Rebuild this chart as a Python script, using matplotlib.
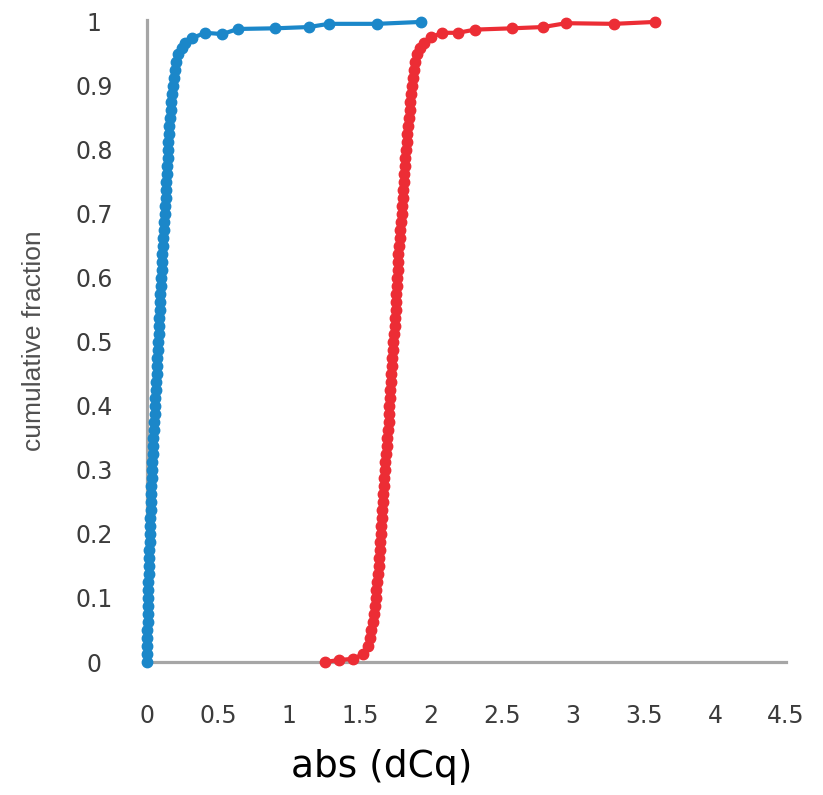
import matplotlib
matplotlib.use("Agg")
import matplotlib.pyplot as plt

# ---- data ----
blue_x = [0.000, 0.000, 0.001, 0.002, 0.003, 0.004, 0.005, 0.006, 0.007, 0.009,
          0.010, 0.012, 0.013, 0.015, 0.016, 0.018, 0.020, 0.021, 0.023, 0.025,
          0.027, 0.029, 0.031, 0.033, 0.035, 0.037, 0.040, 0.042, 0.045, 0.048,
          0.050, 0.053, 0.056, 0.059, 0.062, 0.064, 0.067, 0.070, 0.072, 0.075,
          0.078, 0.081, 0.084, 0.086, 0.089, 0.091, 0.094, 0.097, 0.100, 0.103,
          0.106, 0.109, 0.112, 0.115, 0.118, 0.121, 0.125, 0.128, 0.131, 0.133,
          0.136, 0.139, 0.142, 0.145, 0.148, 0.151, 0.155, 0.158, 0.162, 0.166,
          0.170, 0.176, 0.183, 0.190, 0.197, 0.205, 0.220, 0.245, 0.270, 0.320,
          0.41, 0.53, 0.64, 0.90, 1.14, 1.28, 1.62, 1.93]
blue_y = [0.0000, 0.0125, 0.0250, 0.0375, 0.0500, 0.0625, 0.0750, 0.0875, 0.1000, 0.1125,
          0.1250, 0.1375, 0.1500, 0.1625, 0.1750, 0.1875, 0.2000, 0.2125, 0.2250, 0.2375,
          0.2500, 0.2625, 0.2750, 0.2875, 0.3000, 0.3125, 0.3250, 0.3375, 0.3500, 0.3625,
          0.3750, 0.3875, 0.4000, 0.4125, 0.4250, 0.4375, 0.4500, 0.4625, 0.4750, 0.4875,
          0.5000, 0.5125, 0.5250, 0.5375, 0.5500, 0.5625, 0.5750, 0.5875, 0.6000, 0.6125,
          0.6250, 0.6375, 0.6500, 0.6625, 0.6750, 0.6875, 0.7000, 0.7125, 0.7250, 0.7375,
          0.7500, 0.7625, 0.7750, 0.7875, 0.8000, 0.8125, 0.8250, 0.8375, 0.8500, 0.8625,
          0.8750, 0.8875, 0.9000, 0.9125, 0.9250, 0.9375, 0.9500, 0.9600, 0.9670, 0.9750,
          0.983, 0.981, 0.989, 0.990, 0.992, 0.997, 0.997, 1.000]

red_x = [1.250, 1.350, 1.450, 1.520, 1.555, 1.568, 1.580, 1.589, 1.597, 1.604,
         1.610, 1.616, 1.622, 1.629, 1.633, 1.637, 1.641, 1.644, 1.647, 1.650,
         1.653, 1.657, 1.660, 1.663, 1.666, 1.669, 1.673, 1.677, 1.682, 1.687,
         1.692, 1.697, 1.701, 1.704, 1.707, 1.710, 1.713, 1.716, 1.719, 1.722,
         1.725, 1.729, 1.733, 1.738, 1.743, 1.747, 1.750, 1.753, 1.756, 1.759,
         1.762, 1.765, 1.768, 1.771, 1.775, 1.780, 1.784, 1.789, 1.793, 1.797,
         1.801, 1.804, 1.807, 1.811, 1.815, 1.820, 1.825, 1.829, 1.834, 1.839,
         1.844, 1.849, 1.854, 1.860, 1.865, 1.871, 1.877, 1.885, 1.900, 1.925,
         1.950, 2.000, 2.08, 2.19, 2.31, 2.57, 2.79, 2.95, 3.29, 3.58]
red_y = [0.0000, 0.0030, 0.0050, 0.0120, 0.0250, 0.0375, 0.0500, 0.0625, 0.0750, 0.0875,
         0.1000, 0.1125, 0.1250, 0.1375, 0.1500, 0.1625, 0.1750, 0.1875, 0.2000, 0.2125,
         0.2250, 0.2375, 0.2500, 0.2625, 0.2750, 0.2875, 0.3000, 0.3125, 0.3250, 0.3375,
         0.3500, 0.3625, 0.3750, 0.3875, 0.4000, 0.4125, 0.4250, 0.4375, 0.4500, 0.4625,
         0.4750, 0.4875, 0.5000, 0.5125, 0.5250, 0.5375, 0.5500, 0.5625, 0.5750, 0.5875,
         0.6000, 0.6125, 0.6250, 0.6375, 0.6500, 0.6625, 0.6750, 0.6875, 0.7000, 0.7125,
         0.7250, 0.7375, 0.7500, 0.7625, 0.7750, 0.7875, 0.8000, 0.8125, 0.8250, 0.8375,
         0.8500, 0.8625, 0.8750, 0.8875, 0.9000, 0.9125, 0.9250, 0.9375, 0.9500, 0.9600,
         0.9670, 0.9760, 0.983, 0.983, 0.988, 0.990, 0.992, 0.998, 0.997, 1.000]

x_ticks = [0, 0.5, 1, 1.5, 2, 2.5, 3, 3.5, 4, 4.5]
x_tick_labels = ["0", "0.5", "1", "1.5", "2", "2.5", "3", "3.5", "4", "4.5"]
y_ticks = [0, 0.1, 0.2, 0.3, 0.4, 0.5, 0.6, 0.7, 0.8, 0.9, 1.0]
y_tick_labels = ["0", "0.1", "0.2", "0.3", "0.4", "0.5", "0.6", "0.7", "0.8", "0.9", "1"]

BLUE = "#1b87c9"
RED = "#ec2d35"
SPINE = "#a6a6a6"
TICKC = "#3c3c3c"

fig = plt.figure(figsize=(8.23, 7.95), dpi=100)
ax = fig.add_axes([147/823, 1 - 662/795, (786-147)/823, (662-20)/795])

ax.plot(blue_x, blue_y, color=BLUE, lw=3.0, marker="o", ms=7.5, mec=BLUE, mfc=BLUE,
        solid_capstyle="round", clip_on=False, zorder=3)
ax.plot(red_x, red_y, color=RED, lw=3.0, marker="o", ms=7.5, mec=RED, mfc=RED,
        solid_capstyle="round", clip_on=False, zorder=3)

ax.set_xlim(0, 4.5)
ax.set_ylim(0, 1.003)

for s in ["top", "right"]:
    ax.spines[s].set_visible(False)
for s in ["left", "bottom"]:
    ax.spines[s].set_color(SPINE)
    ax.spines[s].set_linewidth(2.3)

ax.set_xticks(x_ticks)
ax.set_xticklabels(x_tick_labels, fontsize=17, color=TICKC, family="DejaVu Sans")
ax.set_yticks(y_ticks)
ax.set_yticklabels(y_tick_labels, fontsize=17, color=TICKC, family="DejaVu Sans",
                   ha="center")
ax.tick_params(axis="x", length=0, pad=30)
ax.tick_params(axis="y", length=0, pad=38)

ax.set_xlabel("abs (dCq)", fontsize=27, family="DejaVu Sans", color="black")
ax.xaxis.set_label_coords((382-147)/639, -(767-662)/642)
ax.xaxis.label.set_va("center")

ax.set_ylabel("cumulative fraction", fontsize=19, family="Liberation Sans", color="#505050")
ax.yaxis.set_label_coords(-(147-34)/639, 0.5)
ax.yaxis.label.set_va("center")

fig.savefig("out.png", dpi=100)
